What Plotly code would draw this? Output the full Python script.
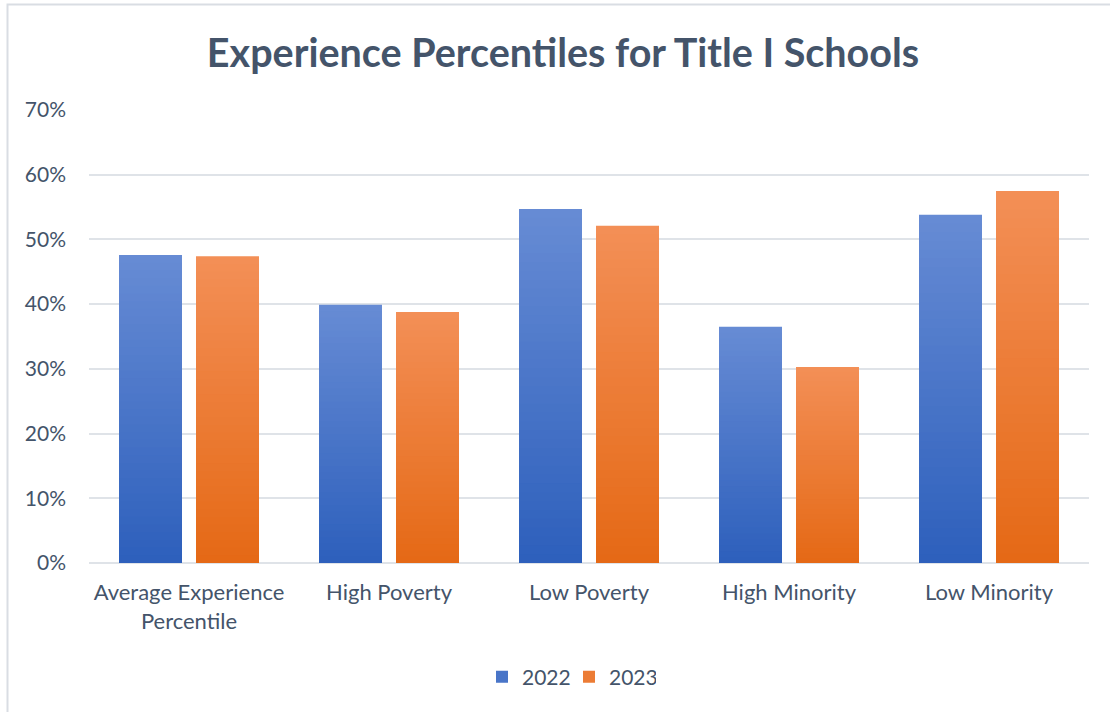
import plotly.graph_objects as go

categories = ["Average Experience<br>Percentile", "High Poverty", "Low Poverty",
              "High Minority", "Low Minority"]
values_2022 = [0.476, 0.399, 0.547, 0.365, 0.538]
values_2023 = [0.474, 0.388, 0.521, 0.303, 0.575]
tick_vals = [0, 0.1, 0.2, 0.3, 0.4, 0.5, 0.6, 0.7]
tick_text = ["0%", "10%", "20%", "30%", "40%", "50%", "60%", "70%"]

series = [
    ("2022", values_2022, (102, 139, 212), (46, 96, 188)),
    ("2023", values_2023, (243, 143, 86), (229, 105, 22)),
]

TEXT = "#44546a"
STEPS = 40

fig = go.Figure()


def mix(c_top, c_bot, t):
    r, g, b = (round(a + (b_ - a) * t) for a, b_ in zip(c_top, c_bot))
    return f"rgb({r},{g},{b})"


# Each bar is painted as a stack of ever-shorter overlaid bars so the fill
# runs from a lighter top to a darker base.
for name, vals, c_top, c_bot in series:
    for k in range(STEPS):
        frac = (STEPS - k) / STEPS
        fig.add_trace(go.Bar(
            x=categories,
            y=[v * frac for v in vals],
            name=name,
            offsetgroup=name,
            marker=dict(color=mix(c_top, c_bot, k / (STEPS - 1)), line=dict(width=0)),
            showlegend=(k == STEPS // 2),
            legendgroup=name,
            hoverinfo="skip" if k else None,
            customdata=vals,
            hovertemplate="%{x}<br>" + name + ": %{customdata:.1%}<extra></extra>",
        ))

fig.update_layout(
    width=1110, height=712,
    margin=dict(l=89, r=21, t=110, b=149),
    paper_bgcolor="white", plot_bgcolor="white",
    barmode="group", bargap=0.23, bargroupgap=0.182,
    title=dict(text="<b>Experience Percentiles for Title I Schools</b>",
               x=563 / 1110, xanchor="center", y=1 - 53 / 712, yanchor="middle",
               font=dict(family="Lato", size=39.5, color=TEXT)),
    font=dict(family="Lato", size=21, color=TEXT),
    legend=dict(orientation="h", x=0.48, xanchor="center",
                y=-(677 - 563) / 453, yanchor="middle",
                font=dict(size=21, color=TEXT), traceorder="normal",
                itemwidth=30, entrywidth=42),
    shapes=[dict(type="rect", xref="paper", yref="paper",
                 x0=-81.5 / 1000, x1=1.2, y0=-0.6, y1=1 + 105.5 / 453,
                 line=dict(color="#d9dde3", width=2), fillcolor="rgba(0,0,0,0)",
                 layer="below")],
)
fig.update_xaxes(showgrid=False, showline=False, ticks="",
                 tickfont=dict(size=22, color=TEXT), ticklabelstandoff=14)
fig.update_yaxes(range=[0, 0.7], tickvals=tick_vals, ticktext=tick_text,
                 showgrid=True, gridcolor="#dfe3e8", gridwidth=1.5,
                 zeroline=True, zerolinecolor="#dfe3e8", zerolinewidth=2,
                 tickfont=dict(size=21, color=TEXT), ticklabelstandoff=22)

fig.write_html("out.html")
